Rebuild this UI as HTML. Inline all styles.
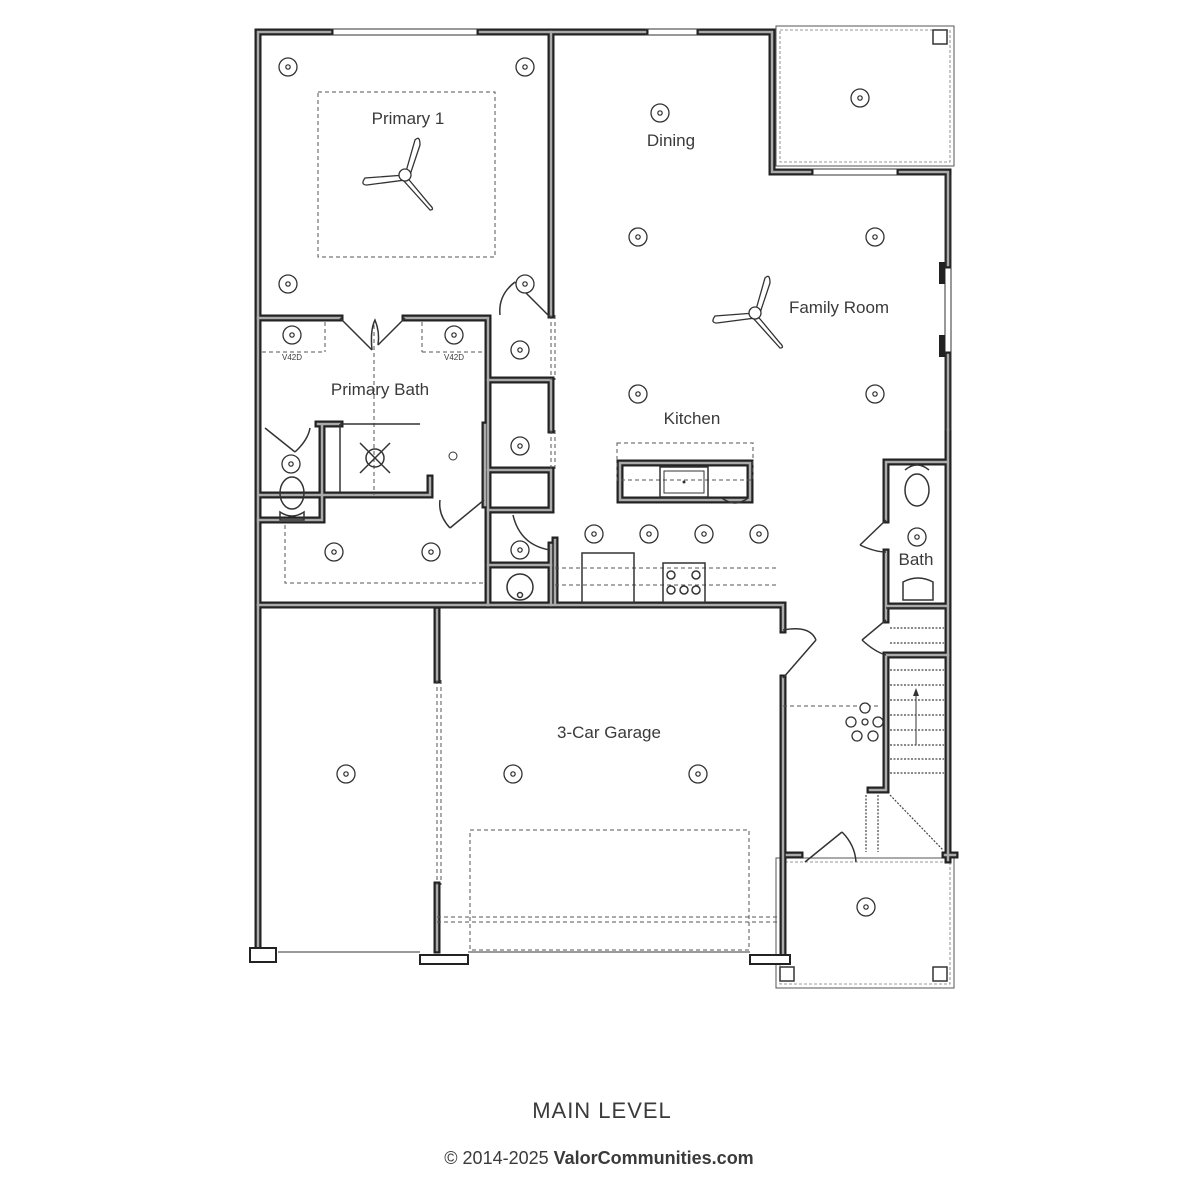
<!DOCTYPE html>
<html><head><style>
html,body{margin:0;padding:0;background:#fff;width:1200px;height:1200px;overflow:hidden}
svg{display:block}
text{font-family:"Liberation Sans",sans-serif;fill:#3a3a3a}
</style></head><body>
<svg width="1200" height="1200" viewBox="0 0 1200 1200">
<defs>
<g id="lt"><circle r="9" fill="#fff" stroke="#333" stroke-width="1.3"/><circle r="2.2" fill="none" stroke="#333" stroke-width="1.2"/></g>
<g id="walls" fill="none" stroke-linecap="square">
<path d="M258 955 V32 H330 M480 32 H645 M700 32 H772 V172 H810 M900 172 H948 V265 M948 355 V430"/>
<path d="M551 32 V315"/>
<path d="M258 318 H340 M405 318 H488 M488 318 V605"/>
<path d="M488 380 H551 M551 380 V430 M551 470 V510 H488 M488 470 H551 M551 545 V605"/>
<path d="M488 565 H551"/>
<path d="M258 605 H783 V630 M783 678 V955"/>
<path d="M437 610 V680 M437 885 V950"/>
<path d="M258 520 H322 V424 H318 M322 424 H340 M322 495 H430 V478 M260 495 H320"/>
<path d="M485 425 V505"/>
<path d="M948 430 V860 M886 462 H948 M886 462 V520 M886 552 V606 M886 606 H948 M886 606 V620 M886 655 V790 H870"/>
<path d="M886 655 H948"/>
<path d="M787 855 H800 M945 855 H955"/>
<path d="M620 463 H750 V500 H620 Z"/>
<path d="M555 540 V603"/>
</g>
</defs>

<rect x="776" y="26" width="178" height="140" fill="none" stroke="#555" stroke-width="1"/>
<rect x="780" y="30" width="170" height="132" fill="none" stroke="#777" stroke-width="0.8" stroke-dasharray="3 2"/>
<rect x="776" y="858" width="178" height="130" fill="none" stroke="#555" stroke-width="1"/>
<rect x="780" y="862" width="170" height="122" fill="none" stroke="#777" stroke-width="0.8" stroke-dasharray="3 2"/>
<rect x="933" y="30" width="14" height="14" fill="none" stroke="#333" stroke-width="1.5"/>
<rect x="780" y="967" width="14" height="14" fill="none" stroke="#333" stroke-width="1.5"/>
<rect x="933" y="967" width="14" height="14" fill="none" stroke="#333" stroke-width="1.5"/>

<use href="#walls" stroke="#222" stroke-width="7"/>
<use href="#walls" stroke="#aaa" stroke-width="2.5"/>
<g stroke="#333" stroke-width="1"><line x1="330" y1="29" x2="480" y2="29"/><line x1="330" y1="35" x2="480" y2="35"/><line x1="645" y1="29" x2="700" y2="29"/><line x1="645" y1="35" x2="700" y2="35"/>
<line x1="945" y1="175" x2="945" y2="430"/><line x1="951" y1="175" x2="951" y2="430"/><line x1="810" y1="169" x2="900" y2="169"/><line x1="810" y1="175" x2="900" y2="175"/></g>
<rect x="939" y="262" width="6" height="22" fill="#222"/><rect x="939" y="335" width="6" height="22" fill="#222"/>

<g fill="#fff" stroke="#222" stroke-width="2"><rect x="250" y="948" width="26" height="14"/><rect x="420" y="955" width="48" height="9"/><rect x="750" y="955" width="40" height="9"/></g>
<line x1="278" y1="952" x2="420" y2="952" stroke="#333"/>
<line x1="468" y1="952" x2="750" y2="952" stroke="#333"/>
<g stroke="#555" stroke-width="1" fill="none" stroke-dasharray="4 3">
<rect x="318" y="92" width="177" height="165"/>
<rect x="470" y="830" width="279" height="120"/>
<line x1="437" y1="680" x2="437" y2="885"/><line x1="441" y1="680" x2="441" y2="885"/>
<line x1="437" y1="917" x2="780" y2="917"/><line x1="437" y1="922" x2="780" y2="922"/>
<line x1="551" y1="315" x2="551" y2="380"/><line x1="555" y1="315" x2="555" y2="380"/>
<line x1="551" y1="430" x2="551" y2="470"/><line x1="555" y1="430" x2="555" y2="470"/>
<rect x="617" y="443" width="136" height="37"/>
<line x1="783" y1="706" x2="880" y2="706"/>
<line x1="374" y1="325" x2="374" y2="495"/>
<path d="M285 525 V583 H484"/>
<line x1="555" y1="568" x2="778" y2="568"/><line x1="555" y1="585" x2="778" y2="585"/>
<line x1="262" y1="352" x2="325" y2="352"/><line x1="422" y1="352" x2="485" y2="352"/>
<line x1="325" y1="322" x2="325" y2="352"/><line x1="422" y1="322" x2="422" y2="352"/>
</g>

<g fill="none" stroke="#333" stroke-width="1.5">
<path d="M340 318 L372 350 M405 318 L378 345"/><path d="M372 350 Q370 330 375 320 Q380 332 378 345"/>
<path d="M515 282 L551 318 M515 282 Q498 295 500 315"/>
<path d="M265 428 L295 452 M295 452 Q308 440 310 428"/>
<path d="M484 500 L450 528 M450 528 Q438 515 440 500"/>
<path d="M860 545 L886 520 M860 545 Q875 552 886 552"/>
<path d="M862 640 L886 620 M862 640 Q875 652 886 655"/>
<path d="M783 678 L816 640 M783 630 Q810 625 816 640"/>
<path d="M805 862 L842 832 M842 832 Q855 845 856 862"/>
<path d="M513 515 Q520 545 550 550"/>
<line x1="886" y1="608" x2="945" y2="608"/>
</g>

<g stroke="#444" stroke-width="1.2" stroke-dasharray="2 1.5">
<line x1="890" y1="628" x2="944" y2="628"/><line x1="890" y1="643" x2="944" y2="643"/>
<line x1="890" y1="670" x2="944" y2="670"/><line x1="890" y1="685" x2="944" y2="685"/><line x1="890" y1="700" x2="944" y2="700"/><line x1="890" y1="715" x2="944" y2="715"/><line x1="890" y1="730" x2="944" y2="730"/><line x1="890" y1="745" x2="944" y2="745"/><line x1="890" y1="759" x2="944" y2="759"/><line x1="890" y1="773" x2="944" y2="773"/>
<line x1="890" y1="795" x2="943" y2="850"/><line x1="866" y1="795" x2="866" y2="852"/><line x1="878" y1="795" x2="878" y2="852"/>
</g>
<line x1="916" y1="745" x2="916" y2="692" stroke="#333"/><path d="M913 696 L916 688 L919 696Z" fill="#333"/>

<g fill="none" stroke="#333" stroke-width="1.5">
<rect x="660" y="467" width="48" height="30"/><rect x="664" y="471" width="40" height="22" stroke-width="1"/>
<rect x="582" y="553" width="52" height="50"/><rect x="663" y="563" width="42" height="40"/>
<circle cx="671" cy="575" r="4"/><circle cx="696" cy="575" r="4"/><circle cx="671" cy="590" r="4"/><circle cx="684" cy="590" r="4"/><circle cx="696" cy="590" r="4"/>
<circle cx="520" cy="587" r="13"/><circle cx="520" cy="595" r="2.5"/>
<path d="M903 600 V582 Q918 574 933 582 V600 Z"/>
<ellipse cx="917" cy="490" rx="12" ry="16"/><path d="M905 470 Q917 460 929 470"/>
<ellipse cx="292" cy="493" rx="12" ry="16"/><path d="M280 512 Q292 520 304 512 V520 H280Z"/>
<circle cx="375" cy="458" r="9"/><path d="M360 443 L390 473 M390 443 L360 473"/>
<path d="M340 424 V492 M340 424 H420"/>
<path d="M722 498 Q735 508 748 498"/>
</g>
<circle cx="684" cy="482" r="1.5" fill="#333"/>
<circle cx="453" cy="456" r="4" fill="none" stroke="#333"/>

<g fill="#fff" stroke="#333" stroke-width="1.3">
<g transform="translate(405,175)"><path d="M0 0 L-40 3 Q-45 10 -38 10 L0 5Z"/><path d="M0 0 L10 -35 Q15 -40 15 -30 L5 0Z"/><path d="M0 0 L25 30 Q30 35 25 35 L-2 5Z"/><circle r="6"/></g>
<g transform="translate(755,313)"><path d="M0 0 L-40 3 Q-45 10 -38 10 L0 5Z"/><path d="M0 0 L10 -35 Q15 -40 15 -30 L5 0Z"/><path d="M0 0 L25 30 Q30 35 25 35 L-2 5Z"/><circle r="6"/></g>
<g transform="translate(865,722)"><circle r="3"/><circle cx="0" cy="-14" r="5"/><circle cx="13" cy="0" r="5"/><circle cx="-14" cy="0" r="5"/><circle cx="-8" cy="14" r="5"/><circle cx="8" cy="14" r="5"/></g>
</g>

<use href="#lt" x="288" y="67"/><use href="#lt" x="525" y="67"/><use href="#lt" x="288" y="284"/><use href="#lt" x="525" y="284"/>
<use href="#lt" x="660" y="113"/><use href="#lt" x="860" y="98"/><use href="#lt" x="638" y="237"/><use href="#lt" x="875" y="237"/>
<use href="#lt" x="638" y="394"/><use href="#lt" x="875" y="394"/><use href="#lt" x="520" y="350"/><use href="#lt" x="520" y="446"/><use href="#lt" x="520" y="550"/>
<use href="#lt" x="594" y="534"/><use href="#lt" x="649" y="534"/><use href="#lt" x="704" y="534"/><use href="#lt" x="759" y="534"/>
<use href="#lt" x="292" y="335"/><use href="#lt" x="454" y="335"/><use href="#lt" x="291" y="464"/><use href="#lt" x="334" y="552"/><use href="#lt" x="431" y="552"/>
<use href="#lt" x="917" y="537"/><use href="#lt" x="346" y="774"/><use href="#lt" x="513" y="774"/><use href="#lt" x="698" y="774"/><use href="#lt" x="866" y="907"/>

<g font-size="17" text-anchor="middle">
<text x="408" y="124">Primary 1</text>
<text x="671" y="146">Dining</text>
<text x="839" y="313">Family Room</text>
<text x="692" y="424">Kitchen</text>
<text x="380" y="395">Primary Bath</text>
<text x="916" y="565">Bath</text>
<text x="609" y="738">3-Car Garage</text>
</g>
<text x="292" y="360" font-size="8" text-anchor="middle">V42D</text>
<text x="454" y="360" font-size="8" text-anchor="middle">V42D</text>
<text x="602" y="1118" font-size="22" text-anchor="middle" fill="#222" style="letter-spacing:1px">MAIN LEVEL</text>
<text x="599" y="1164" font-size="18" text-anchor="middle">© 2014-2025 <tspan font-weight="bold">ValorCommunities.com</tspan></text>
</svg>
</body></html>
